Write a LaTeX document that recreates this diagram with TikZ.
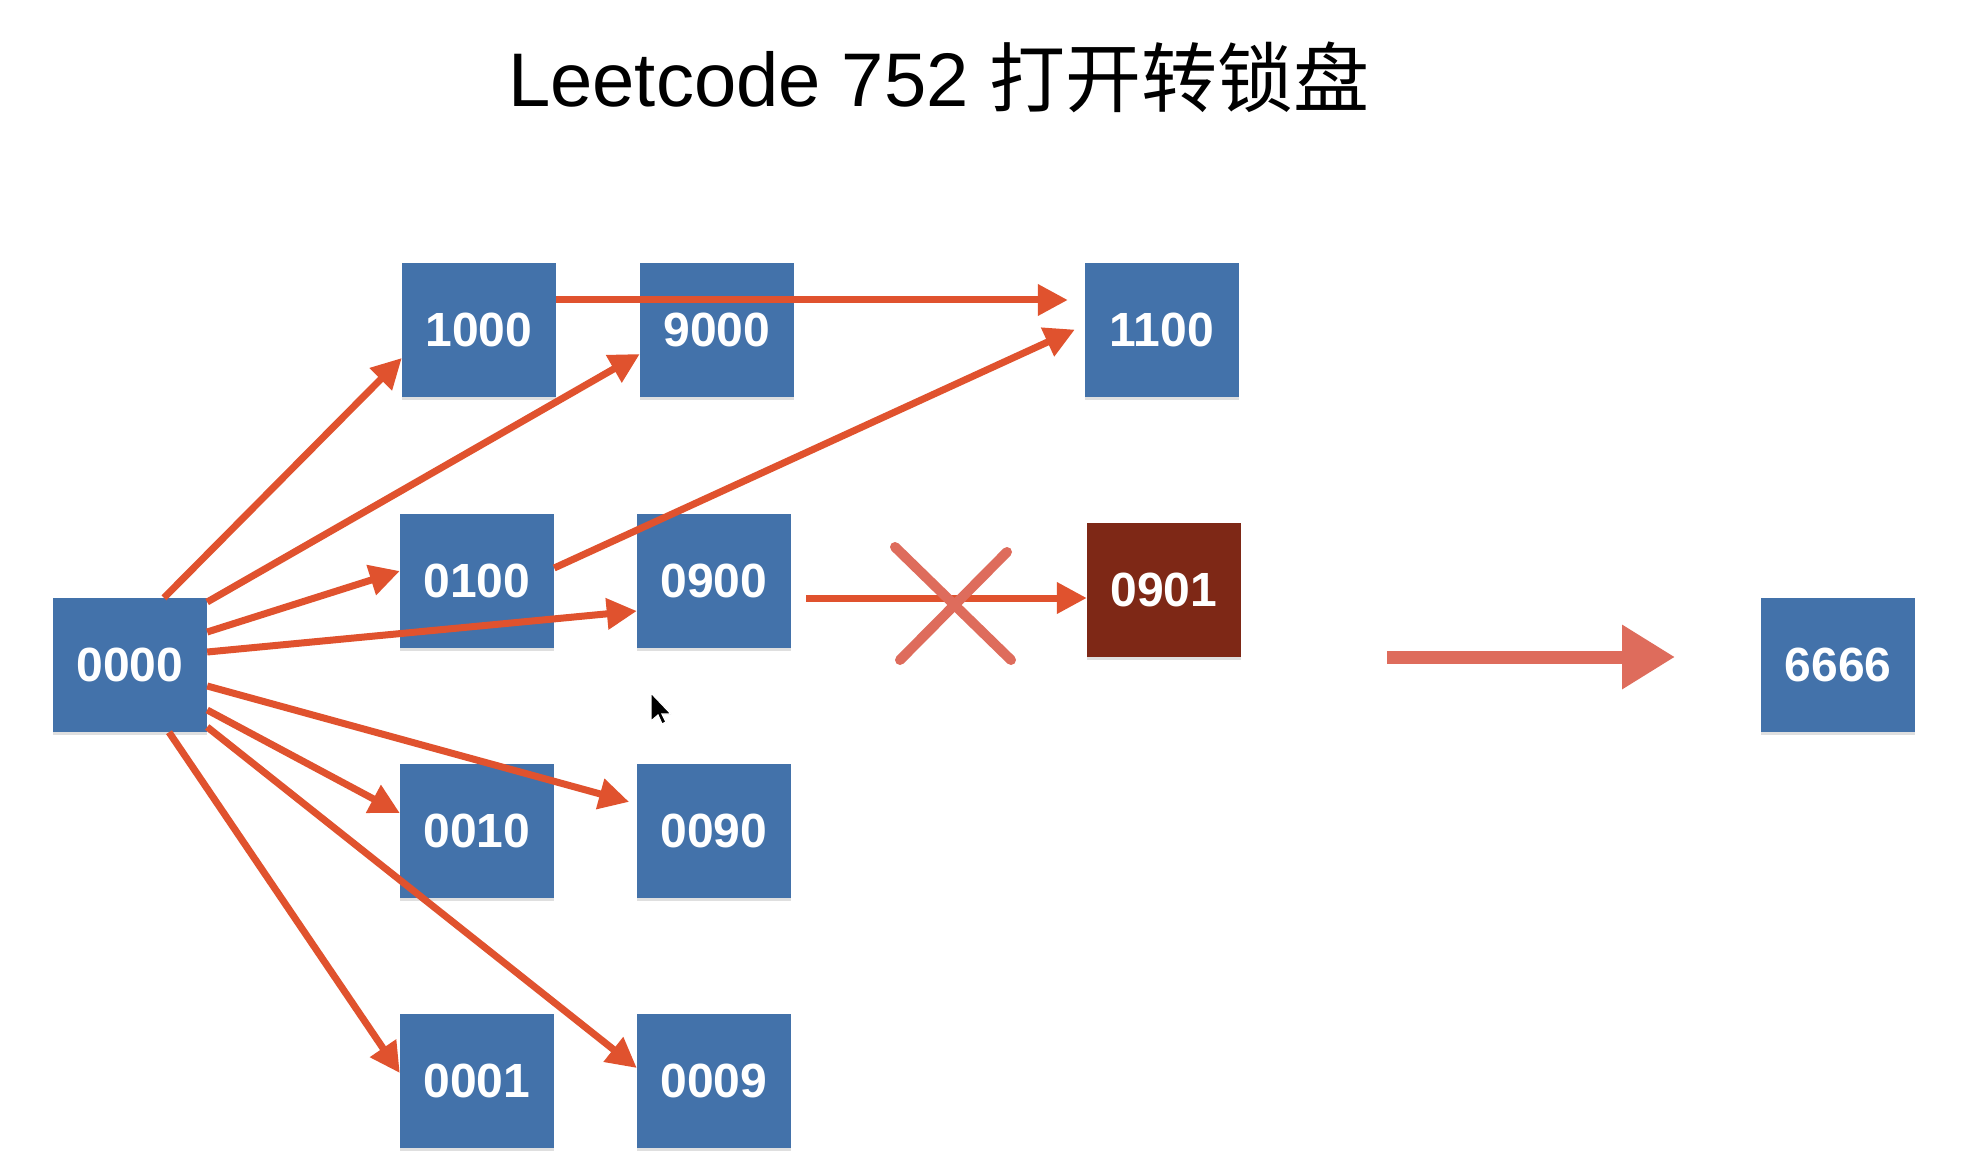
\documentclass[tikz,border=0pt]{standalone}
\usepackage{fontspec}
\setmainfont{Liberation Sans}
\newfontfamily\cjk{Noto Sans CJK SC}
\usetikzlibrary{arrows.meta,shadows}
\definecolor{boxblue}{RGB}{67,114,170}
\definecolor{deadred}{RGB}{126,40,22}
\definecolor{arrowred}{RGB}{224,82,46}
\definecolor{sketchred}{RGB}{222,108,92}
\begin{document}
\begin{tikzpicture}[x=1pt,y=-1pt,
  lockbox/.style={fill=boxblue, minimum width=154pt, minimum height=134pt, inner sep=0pt,
    text=white, font=\fontsize{48}{48}\selectfont\bfseries,
    drop shadow={shadow xshift=0pt,shadow yshift=-3pt,opacity=0.25}},
  deadbox/.style={lockbox, fill=deadred},
  link/.style={draw=arrowred, line width=7pt, -{Triangle[length=30pt,width=30pt]}},
  sketch/.style={draw=sketchred, line width=10pt, line cap=round},
]
\fill[white] (0,0) rectangle (1982,1174);
\useasboundingbox (0,0) rectangle (1982,1174);

\node[anchor=base west, inner sep=0pt, font=\fontsize{76}{76}\selectfont] (title) at (508,107) {Leetcode 752 {\cjk 打开转锁盘}};

\node[lockbox] (b0000) at (130,665) {0000};
\node[lockbox] (b1000) at (479,330) {1000};
\node[lockbox] (b9000) at (717,330) {9000};
\node[lockbox] (b1100) at (1162,330) {1100};
\node[lockbox] (b0100) at (477,581) {0100};
\node[lockbox] (b0900) at (714,581) {0900};
\node[deadbox] (b0901) at (1164,590) {0901};
\node[lockbox] (b6666) at (1838,665) {6666};
\node[lockbox] (b0010) at (477,831) {0010};
\node[lockbox] (b0090) at (714,831) {0090};
\node[lockbox] (b0001) at (477,1081) {0001};
\node[lockbox] (b0009) at (714,1081) {0009};

\draw[link] ([xshift=34pt]b0000.north) -- ([yshift=-28pt]b1000.west);
\draw[link] ([yshift=63pt]b0000.east) -- ([yshift=-24pt]b9000.west);
\draw[link] ([yshift=33pt]b0000.east) -- ([yshift=10pt]b0100.west);
\draw[link] ([yshift=13pt]b0000.east) -- ([yshift=-30pt]b0900.west);
\draw[link, shorten >=8pt] ([yshift=-21pt]b0000.east) -- ([yshift=27pt]b0090.west);
\draw[link] ([yshift=-45pt]b0000.east) -- ([yshift=18pt]b0010.west);
\draw[link] ([yshift=-62pt]b0000.east) -- ([yshift=13pt]b0009.west);
\draw[link] ([xshift=39pt]b0000.south) -- ([yshift=8pt]b0001.west);
\draw[link, shorten >=17pt] ([yshift=30pt]b1000.east) -- ([yshift=30pt]b1100.west);
\draw[link, shorten >=11pt] ([yshift=13pt]b0100.east) -- ([yshift=5pt]b1100.west);
\draw[link, shorten <=15pt] ([yshift=-17pt]b0900.east) -- ([yshift=-8pt]b0901.west);

% cross over the blocked move
\coordinate (c1) at (895,547);
\coordinate (c2) at (1011,660);
\coordinate (c3) at (1007,552);
\coordinate (c4) at (900,660);
\draw[sketch] (c1) -- (c2);
\draw[sketch] (c3) -- (c4);

% sketchy arrow towards the target
\coordinate (sk1) at (1387,657);
\coordinate (sk2) at (1675,657);
\draw[draw=sketchred, line width=13pt, -{Triangle[length=53pt,width=61pt]}] (sk1) -- (sk2);

% mouse pointer
\coordinate (cur) at (651,693);
\filldraw[fill=black, draw=white, line width=1.2pt, shift={(cur)}]
  (0,0) -- (0,28) -- (7,22) -- (11,31) -- (15,29) -- (11,21) -- (20,21) -- cycle;
\end{tikzpicture}
\end{document}
